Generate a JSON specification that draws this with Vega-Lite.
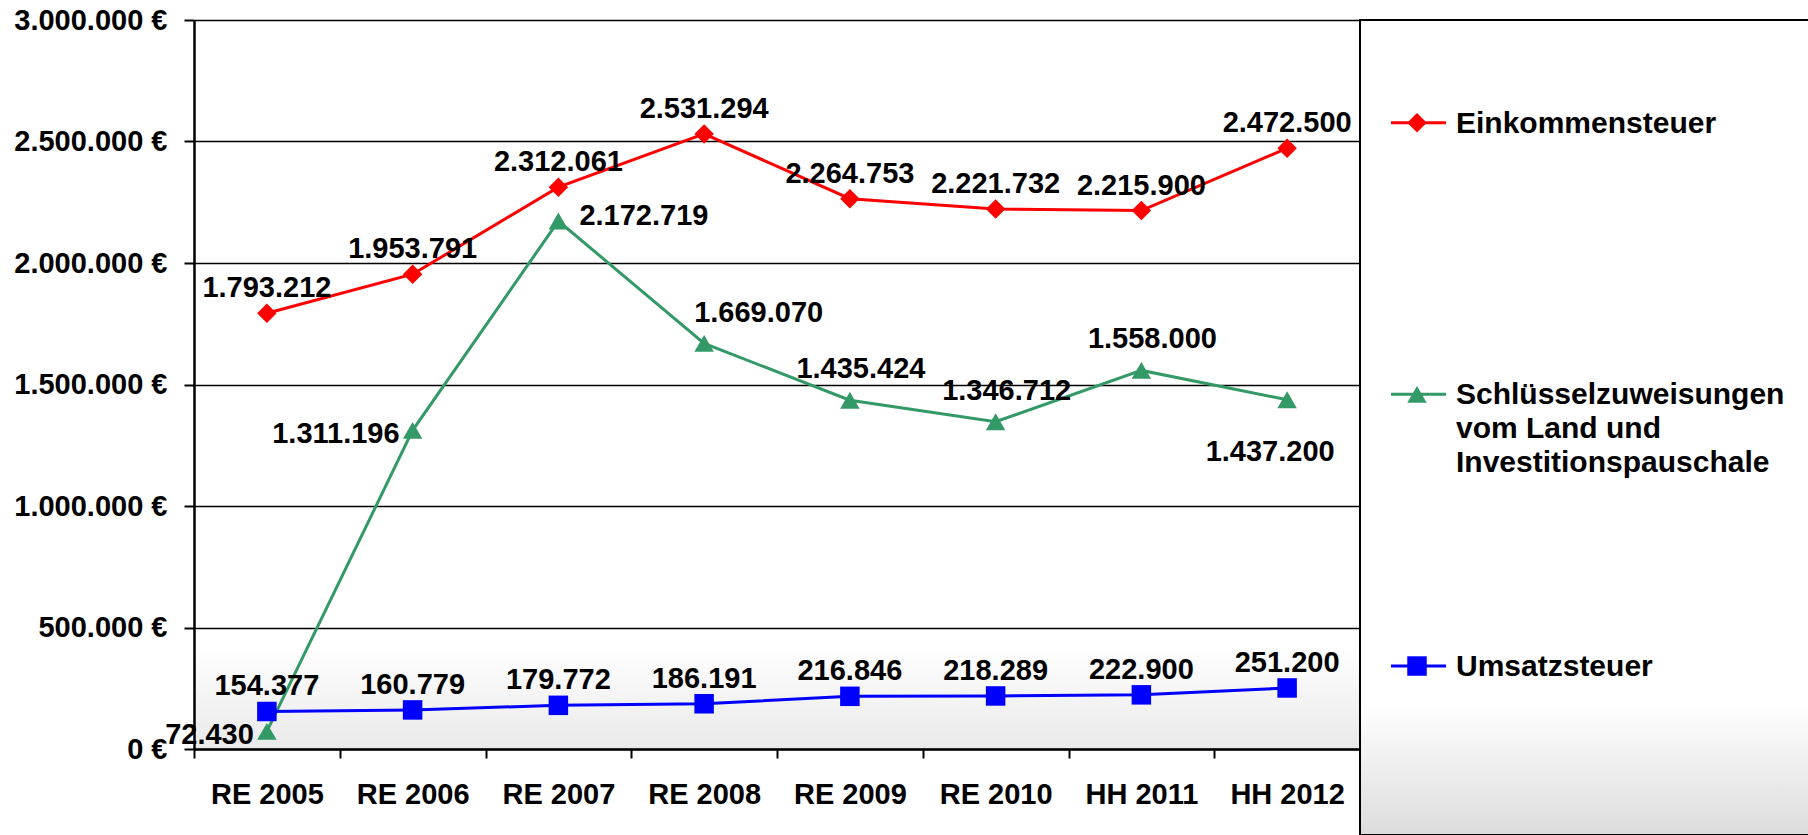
{
  "$schema": "https://vega.github.io/schema/vega-lite/v6.json",
  "padding": {"left": 13, "top": 6, "right": 0, "bottom": 0},
  "autosize": {"type": "pad"},
  "background": "white",
  "bounds": "flush",
  "spacing": -5,
  "datasets": {
    "main": [
      {"year": "RE 2005", "series": "Einkommensteuer", "value": 1793212},
      {"year": "RE 2006", "series": "Einkommensteuer", "value": 1953791},
      {"year": "RE 2007", "series": "Einkommensteuer", "value": 2312061},
      {"year": "RE 2008", "series": "Einkommensteuer", "value": 2531294},
      {"year": "RE 2009", "series": "Einkommensteuer", "value": 2264753},
      {"year": "RE 2010", "series": "Einkommensteuer", "value": 2221732},
      {"year": "HH 2011", "series": "Einkommensteuer", "value": 2215900},
      {"year": "HH 2012", "series": "Einkommensteuer", "value": 2472500},
      {"year": "RE 2005", "series": "Schlüsselzuweisungen\nvom Land und\nInvestitionspauschale", "value": 72430},
      {"year": "RE 2006", "series": "Schlüsselzuweisungen\nvom Land und\nInvestitionspauschale", "value": 1311196},
      {"year": "RE 2007", "series": "Schlüsselzuweisungen\nvom Land und\nInvestitionspauschale", "value": 2172719},
      {"year": "RE 2008", "series": "Schlüsselzuweisungen\nvom Land und\nInvestitionspauschale", "value": 1669070},
      {"year": "RE 2009", "series": "Schlüsselzuweisungen\nvom Land und\nInvestitionspauschale", "value": 1435424},
      {"year": "RE 2010", "series": "Schlüsselzuweisungen\nvom Land und\nInvestitionspauschale", "value": 1346712},
      {"year": "HH 2011", "series": "Schlüsselzuweisungen\nvom Land und\nInvestitionspauschale", "value": 1558000},
      {"year": "HH 2012", "series": "Schlüsselzuweisungen\nvom Land und\nInvestitionspauschale", "value": 1437200},
      {"year": "RE 2005", "series": "Umsatzsteuer", "value": 154377},
      {"year": "RE 2006", "series": "Umsatzsteuer", "value": 160779},
      {"year": "RE 2007", "series": "Umsatzsteuer", "value": 179772},
      {"year": "RE 2008", "series": "Umsatzsteuer", "value": 186191},
      {"year": "RE 2009", "series": "Umsatzsteuer", "value": 216846},
      {"year": "RE 2010", "series": "Umsatzsteuer", "value": 218289},
      {"year": "HH 2011", "series": "Umsatzsteuer", "value": 222900},
      {"year": "HH 2012", "series": "Umsatzsteuer", "value": 251200}
    ],
    "legend": [
      {"series": "Einkommensteuer"},
      {"series": "Schlüsselzuweisungen\nvom Land und\nInvestitionspauschale"},
      {"series": "Umsatzsteuer"}
    ]
  },
  "hconcat": [
    {
      "width": 1166,
      "height": 729,
      "data": {"name": "main"},
      "view": {
        "stroke": null,
        "fill": {"gradient": "linear", "x1": 0, "y1": 0, "x2": 0, "y2": 1,
          "stops": [{"offset": 0, "color": "#ffffff"}, {"offset": 0.86, "color": "#ffffff"}, {"offset": 1, "color": "#e9e9e9"}]}
      },
      "encoding": {
        "x": {
          "field": "year", "type": "nominal", "sort": null,
          "scale": {"type": "band", "paddingInner": 0, "paddingOuter": 0},
          "axis": {"title": null, "labelAngle": 0, "tickBand": "extent", "tickSize": 9, "tickColor": "black", "tickWidth": 2,
            "domainColor": "black", "domainWidth": 2.5, "labelFontSize": 29, "labelFontWeight": "bold", "labelColor": "black",
            "labelPadding": 22, "grid": false, "labelFont": "Liberation Sans"}
        },
        "y": {
          "field": "value", "type": "quantitative",
          "scale": {"domain": [0, 3000000]},
          "axis": {"title": null, "values": [0, 500000, 1000000, 1500000, 2000000, 2500000, 3000000], "format": "$,d",
            "grid": true, "gridColor": "black", "gridWidth": 1.5, "tickSize": 10, "tickColor": "black", "tickWidth": 2,
            "domainColor": "black", "domainWidth": 2.5, "labelFontSize": 29, "labelFontWeight": "bold", "labelColor": "black",
            "labelPadding": 17, "labelFont": "Liberation Sans"}
        }
      },
      "layer": [
        {
          "mark": {"type": "line", "strokeWidth": 3},
          "encoding": {
            "color": {"field": "series", "type": "nominal", "legend": null,
              "scale": {"domain": ["Einkommensteuer", "Schlüsselzuweisungen\nvom Land und\nInvestitionspauschale", "Umsatzsteuer"], "range": ["#ff0000", "#339966", "#0000ff"]}}
          }
        },
        {
          "mark": {"type": "point", "filled": true, "opacity": 1, "size": 380},
          "encoding": {
            "color": {"field": "series", "type": "nominal", "legend": null},
            "shape": {"field": "series", "type": "nominal", "legend": null,
              "scale": {"domain": ["Einkommensteuer", "Schlüsselzuweisungen\nvom Land und\nInvestitionspauschale", "Umsatzsteuer"], "range": ["diamond", "triangle-up", "square"]}}
          }
        },
        {
          "transform": [{"filter": "datum.series === 'Einkommensteuer' || datum.series === 'Umsatzsteuer'"}],
          "mark": {"type": "text", "dy": -25, "fontSize": 29, "fontWeight": "bold", "baseline": "middle", "align": "center", "color": "black", "font": "Liberation Sans"},
          "encoding": {"text": {"field": "value", "type": "quantitative", "format": ",d"}}
        },
        {
          "transform": [{"filter": "indexof(datum.series, 'Schl') === 0 && (datum.year === 'RE 2005' || datum.year === 'RE 2006')"}],
          "mark": {"type": "text", "dx": -13, "dy": 4, "fontSize": 29, "fontWeight": "bold", "baseline": "middle", "align": "right", "color": "black", "font": "Liberation Sans"},
          "encoding": {"text": {"field": "value", "type": "quantitative", "format": ",d"}}
        },
        {
          "transform": [{"filter": "indexof(datum.series, 'Schl') === 0 && datum.year === 'RE 2007'"}],
          "mark": {"type": "text", "dx": 21, "dy": -5, "fontSize": 29, "fontWeight": "bold", "baseline": "middle", "align": "left", "color": "black", "font": "Liberation Sans"},
          "encoding": {"text": {"field": "value", "type": "quantitative", "format": ",d"}}
        },
        {
          "transform": [{"filter": "indexof(datum.series, 'Schl') === 0 && datum.year === 'RE 2008'"}],
          "mark": {"type": "text", "dx": -10, "dy": -30, "fontSize": 29, "fontWeight": "bold", "baseline": "middle", "align": "left", "color": "black", "font": "Liberation Sans"},
          "encoding": {"text": {"field": "value", "type": "quantitative", "format": ",d"}}
        },
        {
          "transform": [{"filter": "indexof(datum.series, 'Schl') === 0 && (datum.year === 'RE 2009' || datum.year === 'RE 2010' || datum.year === 'HH 2011')"}],
          "mark": {"type": "text", "dx": 11, "dy": -31, "fontSize": 29, "fontWeight": "bold", "baseline": "middle", "align": "center", "color": "black", "font": "Liberation Sans"},
          "encoding": {"text": {"field": "value", "type": "quantitative", "format": ",d"}}
        },
        {
          "transform": [{"filter": "indexof(datum.series, 'Schl') === 0 && datum.year === 'HH 2012'"}],
          "mark": {"type": "text", "dx": -17, "dy": 52, "fontSize": 29, "fontWeight": "bold", "baseline": "middle", "align": "center", "color": "black", "font": "Liberation Sans"},
          "encoding": {"text": {"field": "value", "type": "quantitative", "format": ",d"}}
        }
      ]
    },
    {
      "width": 450,
      "height": 815,
      "data": {"name": "legend"},
      "view": {
        "stroke": "black",
        "strokeWidth": 2,
        "fill": {"gradient": "linear", "x1": 0, "y1": 0, "x2": 0, "y2": 1,
          "stops": [{"offset": 0, "color": "#ffffff"}, {"offset": 0.84, "color": "#ffffff"}, {"offset": 1, "color": "#dcdcdc"}]}
      },
      "encoding": {
        "y": {"field": "series", "type": "nominal", "sort": null,
          "scale": {"type": "point", "paddingOuter": 0.5, "align": 0.378}, "axis": null}
      },
      "layer": [
        {
          "mark": {"type": "rule", "strokeWidth": 3},
          "encoding": {
            "x": {"datum": 31, "type": "quantitative", "scale": {"domain": [0, 450]}, "axis": null},
            "x2": {"datum": 86},
            "color": {"field": "series", "type": "nominal", "legend": null,
              "scale": {"domain": ["Einkommensteuer", "Schlüsselzuweisungen\nvom Land und\nInvestitionspauschale", "Umsatzsteuer"], "range": ["#ff0000", "#339966", "#0000ff"]}}
          }
        },
        {
          "mark": {"type": "point", "filled": true, "opacity": 1, "size": 380},
          "encoding": {
            "x": {"datum": 57, "type": "quantitative"},
            "color": {"field": "series", "type": "nominal", "legend": null},
            "shape": {"field": "series", "type": "nominal", "legend": null,
              "scale": {"domain": ["Einkommensteuer", "Schlüsselzuweisungen\nvom Land und\nInvestitionspauschale", "Umsatzsteuer"], "range": ["diamond", "triangle-up", "square"]}}
          }
        },
        {
          "mark": {"type": "text", "align": "left", "baseline": "alphabetic", "dy": 10, "fontSize": 30, "fontWeight": "bold", "lineBreak": "\n", "lineHeight": 34, "color": "black", "font": "Liberation Sans"},
          "encoding": {
            "x": {"datum": 96, "type": "quantitative"},
            "text": {"field": "series", "type": "nominal"}
          }
        }
      ]
    }
  ],
  "config": {
    "locale": {"number": {"decimal": ",", "thousands": ".", "grouping": [3], "currency": ["", " €"]}},
    "font": "Liberation Sans",
    "view": {"stroke": null}
  }
}
